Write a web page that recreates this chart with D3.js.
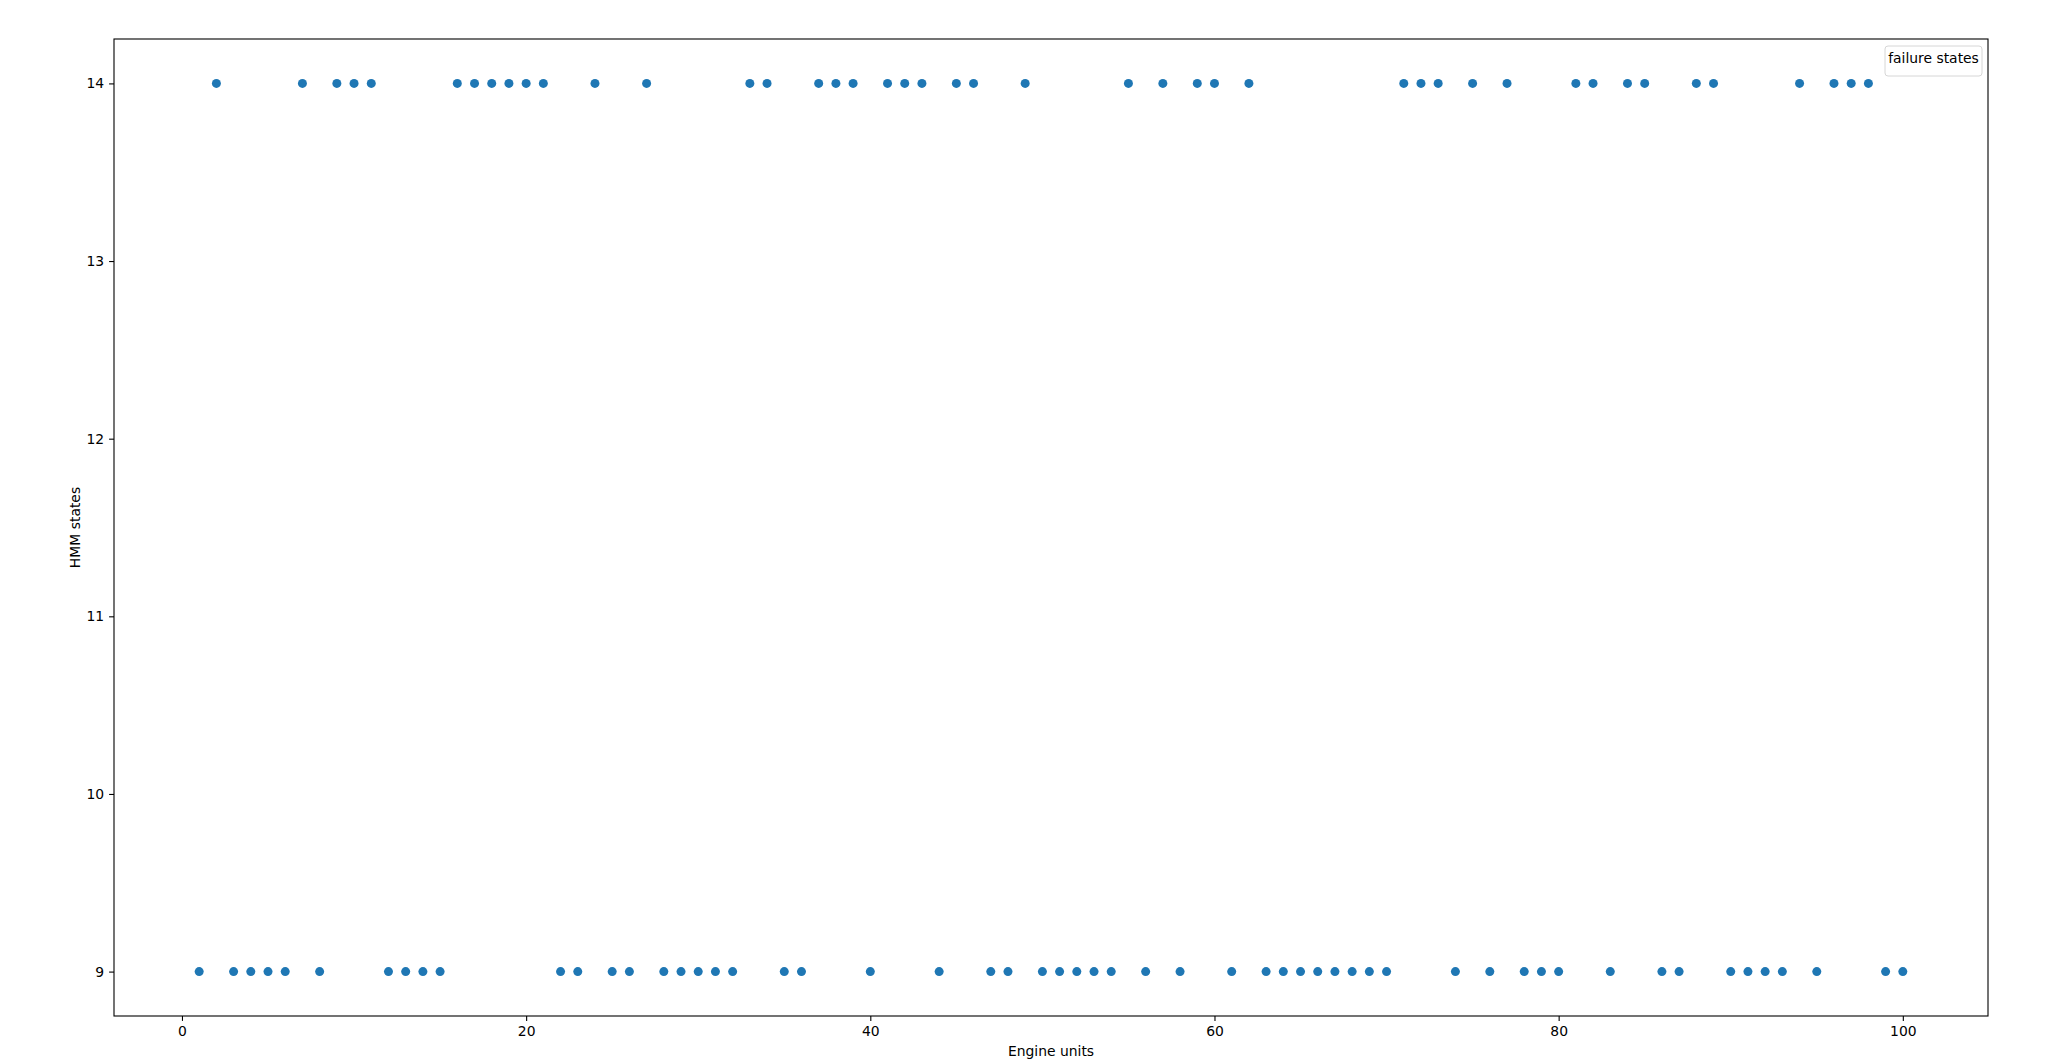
<!DOCTYPE html>
<html>
<head>
<meta charset="utf-8">
<script src="https://cdn.jsdelivr.net/npm/d3@7"></script>
<style>
  body { margin: 0; background: #fff; }
  text { font-family: "DejaVu Sans", sans-serif; }
</style>
</head>
<body>
<div id="my_chart"></div>
<script>
// engine units whose HMM failure state is 14, the rest are 9
var units14 = [2,7,9,10,11,16,17,18,19,20,21,24,27,33,34,37,38,39,41,42,43,45,46,49,
  55,57,59,60,62,71,72,73,75,77,81,82,84,85,88,89,94,96,97,98];
var units9 = [1,3,4,5,6,8,12,13,14,15,22,23,25,26,28,29,30,31,32,35,36,40,44,47,48,
  50,51,52,53,54,56,58,61,63,64,65,66,67,68,69,70,74,76,78,79,80,83,86,87,90,91,92,93,95,99,100];
var xTicks = [0, 20, 40, 60, 80, 100];
var yTicks = [9, 10, 11, 12, 13, 14];

var points = [];
units14.forEach(function(u) { points.push({unit: u, state: 14}); });
units9.forEach(function(u) { points.push({unit: u, state: 9}); });

var W = 2048, H = 1063;
var margin = {top: 39, right: 60, bottom: 47, left: 114};
var width = W - margin.left - margin.right,
    height = H - margin.top - margin.bottom;

var svg = d3.select("#my_chart")
  .append("svg")
    .attr("width", W)
    .attr("height", H)
  .append("g")
    .attr("transform", "translate(" + margin.left + "," + margin.top + ")");

// matplotlib style 5% margins
var x = d3.scaleLinear().domain([1 - 4.95, 100 + 4.95]).range([0, width]);
var y = d3.scaleLinear().domain([9 - 0.25, 14 + 0.25]).range([height, 0]);

// points
svg.selectAll("circle.pt")
  .data(points)
  .enter()
  .append("circle")
    .attr("class", "pt")
    .attr("cx", function(d) { return x(d.unit); })
    .attr("cy", function(d) { return y(d.state); })
    .attr("r", 4.5)
    .attr("fill", "#1f77b4");

// axes
var xAxis = svg.append("g")
  .attr("transform", "translate(0," + height + ")")
  .call(d3.axisBottom(x).tickValues(xTicks).tickFormat(d3.format("d")).tickSize(4.9).tickPadding(4.9));
var yAxis = svg.append("g")
  .call(d3.axisLeft(y).tickValues(yTicks).tickFormat(d3.format("d")).tickSize(4.9).tickPadding(4.9));

[xAxis, yAxis].forEach(function(a) {
  a.select(".domain").remove();
  a.selectAll(".tick line").attr("stroke", "#000").attr("stroke-width", 1.1);
  a.selectAll(".tick text")
    .attr("fill", "#000")
    .style("font-size", "13.9px")
    .style("font-family", "DejaVu Sans");
});

// frame
svg.append("rect")
  .attr("x", 0).attr("y", 0)
  .attr("width", width).attr("height", height)
  .attr("fill", "none")
  .attr("stroke", "#000")
  .attr("stroke-width", 1.1);

// axis labels
svg.append("text")
  .attr("x", width / 2)
  .attr("y", height + 40)
  .attr("text-anchor", "middle")
  .style("font-size", "13.9px")
  .text("Engine units");

svg.append("text")
  .attr("transform", "translate(" + (-34) + "," + (height / 2) + ")rotate(-90)")
  .attr("text-anchor", "middle")
  .style("font-size", "13.9px")
  .text("HMM states");

// legend (title only, no handles)
var leg = svg.append("g").attr("transform", "translate(" + (width - 103) + ",7)");
leg.append("rect")
  .attr("width", 97).attr("height", 30)
  .attr("rx", 3)
  .attr("fill", "#fff").attr("fill-opacity", 0.8)
  .attr("stroke", "#d6d6d6");
leg.append("text")
  .attr("x", 48.5)
  .attr("y", 17)
  .attr("text-anchor", "middle")
  .style("font-size", "13.9px")
  .text("failure states");
</script>
</body>
</html>
